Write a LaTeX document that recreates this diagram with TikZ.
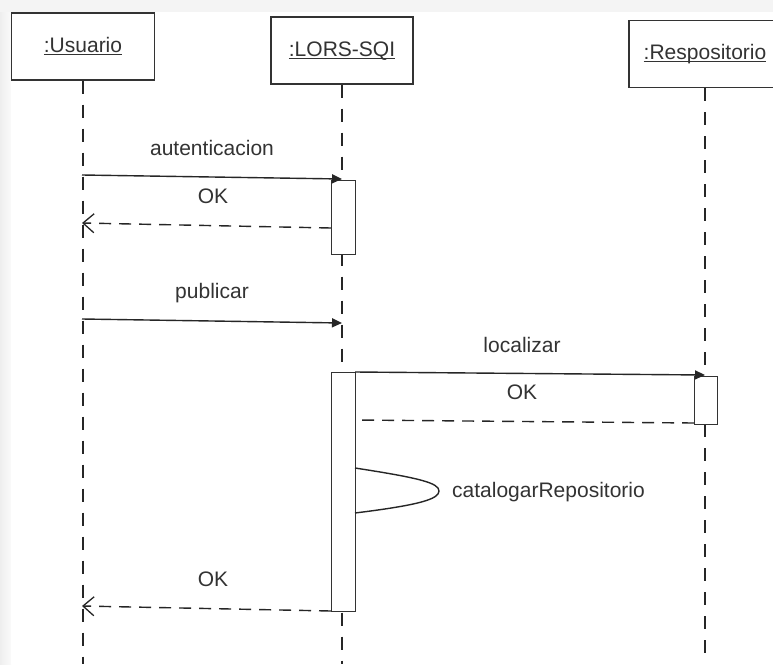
\documentclass[tikz,border=0pt]{standalone}
\usepackage{fontspec}
\setmainfont{Liberation Sans}
\usetikzlibrary{arrows.meta}

% underlined object name for the lifeline heads
\newcommand\hdrul[1]{\setbox0\hbox{#1}\rlap{\raisebox{-2.6pt}{\rule{\wd0}{0.9pt}}}\box0}

\begin{document}
\begin{tikzpicture}[x=1pt,y=-1pt,
  txt/.style={font=\fontsize{21}{24}\selectfont, text=black!80, inner sep=0pt},
  object/.style={draw=black!80, line width=1.4pt, fill=white, minimum height=67pt,
    inner sep=0pt, txt, text height=15pt, text depth=4pt},
  activation/.style={draw=black!80, line width=1.3pt, fill=white, inner sep=0pt,
    minimum width=24pt, anchor=north west},
  lifeline/.style={line width=1.6pt, black!85, dash pattern=on 13pt off 11pt},
  call/.style={line width=1.4pt, black!85, -{Triangle[length=10pt,width=9pt]}},
  reply/.style={line width=1.4pt, black!85, dash pattern=on 12pt off 8pt},
  replyarrow/.style={reply, -{Straight Barb[length=11pt,width=19pt,line width=1.3pt]}},
  msg/.style={txt, anchor=base}]

% background with a soft frame on the top and left
\fill[gray!9] (0,0) rectangle (773,664);
\shade[left color=gray!13, right color=gray!4] (0,12) rectangle (11,664);
\fill[white] (11,12) rectangle (773,664);
\useasboundingbox (0,0) rectangle (773,664);
\clip (0,0) rectangle (773,664);

\coordinate (bottom) at (0,664);

% objects
\node[object, minimum width=143pt] (usr) at (83,46.5) {\hdrul{:Usuario}};
\node[object, minimum width=142pt] (lors) at (342,50.5) {\hdrul{:LORS-SQI}};
\node[object, minimum width=152pt] (repo) at (705,54) {\hdrul{:Respositorio}};

% lifelines
\draw[lifeline] (usr.south) -- (usr.south |- bottom);
\draw[lifeline] (lors.south) -- (lors.south |- bottom);
\draw[lifeline] (repo.south) -- (repo.south |- bottom);

% activations
\node[activation, minimum height=74pt] (act1) at (331,180) {};
\node[activation, minimum height=239pt] (act2) at (331,372) {};
\node[activation, minimum width=23pt, minimum height=48pt] (act3) at (694,375.5) {};

% message end points
\coordinate (autS) at (82,175);
\coordinate (autE) at (342,179);
\coordinate (ok1S) at (331,228);
\coordinate (ok1E) at (82,223);
\coordinate (pubS) at (82,319);
\coordinate (pubE) at (342,323);
\coordinate (locS) at (355,372);
\coordinate (locE) at (705,375);
\coordinate (ok2S) at (694,423);
\coordinate (ok2E) at (355,420);
\coordinate (catS) at (355,468);
\coordinate (catT) at (439,491);
\coordinate (catE) at (355,513);
\coordinate (ok3S) at (331,611);
\coordinate (ok3E) at (82,606);

% messages
\draw[call] (autS) -- (autE);
\draw[replyarrow] (ok1S) -- (ok1E);
\draw[call] (pubS) -- (pubE);
\draw[call] (locS) -- (locE);
\draw[reply] (ok2S) -- (ok2E);
\draw[line width=1.4pt, black!85] (catS) .. controls (420,478) and (439,483) .. (catT)
  .. controls (439,499) and (420,505) .. (catE);
\draw[replyarrow] (ok3S) -- (ok3E);

% message labels
\node[msg] (lAut) at (212,155) {autenticacion};
\node[msg] (lOk1) at (213,203) {OK};
\node[msg] (lPub) at (212,298) {publicar};
\node[msg] (lLoc) at (522,352) {localizar};
\node[msg] (lOk2) at (522,399) {OK};
\node[msg, anchor=base west] (lCat) at (452,497) {catalogarRepositorio};
\node[msg] (lOk3) at (213,586) {OK};
\end{tikzpicture}
\end{document}
